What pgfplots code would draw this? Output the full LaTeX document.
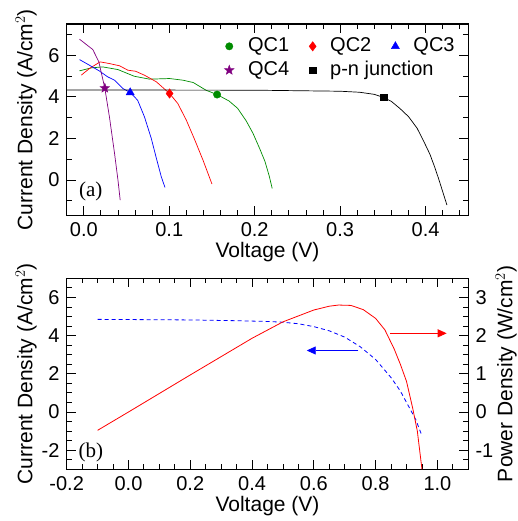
\documentclass[border=0pt]{standalone}
\usepackage{pgfplots}
\pgfplotsset{compat=1.18}
\usepackage{fontspec}
\setmainfont{Liberation Sans}
\newfontfamily\seriffont{Liberation Serif}
\usetikzlibrary{arrows.meta}
\definecolor{qgreen}{RGB}{0,140,0}
\definecolor{qpurple}{RGB}{128,0,128}
\pgfdeclareplotmark{fstar}{%
  \pgfpathmoveto{\pgfqpointpolar{90}{\pgfplotmarksize}}%
  \pgfpathlineto{\pgfqpointpolar{126}{0.42\pgfplotmarksize}}%
  \pgfpathlineto{\pgfqpointpolar{162}{\pgfplotmarksize}}%
  \pgfpathlineto{\pgfqpointpolar{198}{0.42\pgfplotmarksize}}%
  \pgfpathlineto{\pgfqpointpolar{234}{\pgfplotmarksize}}%
  \pgfpathlineto{\pgfqpointpolar{270}{0.42\pgfplotmarksize}}%
  \pgfpathlineto{\pgfqpointpolar{306}{\pgfplotmarksize}}%
  \pgfpathlineto{\pgfqpointpolar{342}{0.42\pgfplotmarksize}}%
  \pgfpathlineto{\pgfqpointpolar{18}{\pgfplotmarksize}}%
  \pgfpathlineto{\pgfqpointpolar{54}{0.42\pgfplotmarksize}}%
  \pgfpathclose
  \pgfusepathqfillstroke}
\begin{document}
\fontsize{21}{24}\selectfont
\begin{tikzpicture}
\useasboundingbox (0pt,0pt) rectangle (518pt,521pt);
\pgfplotsset{
  every axis/.append style={
   scale only axis, width=401.6pt, anchor=south west,
   axis line style={line width=1.3pt},
   major tick length=9pt, minor tick length=5pt,
   every tick/.style={black, line width=0.9pt},
   tick align=inside,
   /pgf/number format/assume math mode=true,
   tick label style={font=\fontsize{20}{23}\selectfont},
   label style={font=\fontsize{21}{24}\selectfont},
  }
}
% ---------------- panel (a)
\begin{axis}[at={(66.7pt,305.5pt)}, height=191.5pt,
  xmin=-0.02,xmax=0.45, ymin=-1.7,ymax=7.5,
  xtick={0,0.1,0.2,0.3,0.4},
  minor xtick={0.02,0.04,0.06,0.08,0.12,0.14,0.16,0.18,0.22,0.24,0.26,0.28,0.32,0.34,0.36,0.38,0.42,0.44},
  ytick={0,2,4,6}, minor ytick={-1,1,3,5,7},
  xticklabel style={/pgf/number format/.cd,fixed,fixed zerofill,precision=1},
  xlabel={Voltage (V)}, ylabel={Current Density (A/cm$^2$)},
  xlabel style={at={(axis description cs:0.5,-0.19)},anchor=center},
  ylabel style={at={(axis description cs:-0.101,0.5)},anchor=center},
  legend columns=3,
  legend style={draw=none, fill=none, at={(axis description cs:0.385,0.95)}, anchor=north west,
     font=\fontsize{20}{23}\selectfont, row sep=2.5pt,
     /tikz/every odd column/.append style={column sep=12pt},
     /tikz/every even column/.append style={column sep=18pt}},
  legend cell align=left,
]
\addplot[qgreen, line width=0.7pt, forget plot] coordinates {
(-0.005,5.25)(0.0086,5.39)(0.022,5.44)(0.040,5.31)(0.059,4.99)(0.077,4.85)(0.1004,4.88)(0.116,4.8)(0.128,4.69)(0.143,4.32)(0.156,4.11)(0.17,3.8)(0.180,3.45)(0.19,2.85)(0.198,2.25)(0.206,1.5)(0.212,0.9)(0.217,0.2)(0.2205,-0.4)};
\addplot[red, line width=0.7pt, forget plot] coordinates {
(-0.003,5.04)(0.0066,5.36)(0.019,5.68)(0.030,5.6)(0.042,5.49)(0.0516,5.28)(0.0606,5.23)(0.071,5.04)(0.085,4.72)(0.1004,4.16)(0.110,3.68)(0.120,2.88)(0.130,1.92)(0.1395,0.96)(0.150,-0.19)};
\addplot[blue, line width=0.7pt, forget plot] coordinates {
(-0.005,5.79)(0.0066,5.52)(0.018,5.25)(0.028,4.96)(0.036,4.8)(0.0457,4.4)(0.0543,4.21)(0.063,3.84)(0.071,3.04)(0.079,2.0)(0.085,1.04)(0.0907,0.16)(0.095,-0.35)};
\addplot[qpurple, line width=0.7pt, forget plot] coordinates {
(-0.005,6.77)(0.0106,6.27)(0.0176,5.68)(0.0246,4.42)(0.030,3.04)(0.036,1.28)(0.040,0)(0.0426,-0.96)};
\addplot[black, line width=0.7pt, forget plot] coordinates {
(-0.02,4.33)(0.2,4.32)(0.3,4.27)(0.323,4.22)(0.34,4.12)(0.351,3.97)(0.36,3.78)(0.370,3.44)(0.38,3.05)(0.390,2.5)(0.398,1.85)(0.405,1.25)(0.41,0.7)(0.415,0.1)(0.42,-0.55)(0.425,-1.2)};
\addplot[only marks, mark=*, mark size=3.7pt, qgreen] coordinates {(0.156,4.11)};
\addlegendentry{QC1}
\addplot[only marks, mark=diamond*, mark size=4.7pt, red] coordinates {(0.1004,4.16)};
\addlegendentry{QC2}
\addplot[only marks, mark=triangle*, mark size=4.7pt, blue] coordinates {(0.0543,4.21)};
\addlegendentry{QC3}
\addplot[only marks, mark=fstar, mark size=5pt, qpurple] coordinates {(0.0246,4.42)};
\addlegendentry{QC4}
\addplot[only marks, mark=square*, mark size=3.2pt, black] coordinates {(0.351,3.97)};
\addlegendentry{\makebox[0pt][l]{p-n junction}}
\node[font=\seriffont\fontsize{21}{24}\selectfont] at (axis description cs:0.06,0.124) {(a)};
\end{axis}
% ---------------- panel (b)
\begin{axis}[at={(66.7pt,51.7pt)}, height=191pt,
  xmin=-0.2,xmax=1.1, ymin=-3,ymax=7,
  xtick={-0.2,0,0.2,0.4,0.6,0.8,1.0},
  minor xtick={-0.15,-0.1,-0.05,0.05,0.1,0.15,0.25,0.3,0.35,0.45,0.5,0.55,0.65,0.7,0.75,0.85,0.9,0.95,1.05},
  ytick={-2,0,2,4,6},
  minor ytick={-2.5,-1.5,-1,-0.5,0.5,1,1.5,2.5,3,3.5,4.5,5,5.5,6.5},
  ytick pos=left,
  xticklabel style={/pgf/number format/.cd,fixed,fixed zerofill,precision=1},
  xlabel={Voltage (V)}, ylabel={Current Density (A/cm$^2$)},
  xlabel style={at={(axis description cs:0.5,-0.195)},anchor=center},
  ylabel style={at={(axis description cs:-0.101,0.5)},anchor=center},
]
\addplot[blue, line width=0.8pt, dash pattern=on 4pt off 3pt] coordinates {
(-0.1,4.85)(0.0,4.84)(0.2,4.82)(0.35,4.78)(0.45,4.74)(0.5,4.70)(0.55,4.62)(0.6,4.47)(0.65,4.25)(0.7,3.92)(0.75,3.42)(0.8,2.75)(0.85,1.8)(0.88,1.1)(0.91,0.2)(0.93,-0.4)(0.95,-1.25)};
\draw[blue, line width=0.9pt, -{Triangle[length=9pt,width=8pt]}] (axis cs:0.744,3.22) -- (axis cs:0.577,3.22);
\draw[red, line width=0.9pt, -{Triangle[length=9pt,width=8pt]}] (axis cs:0.847,4.12) -- (axis cs:1.03,4.12);
\node[font=\seriffont\fontsize{21}{24}\selectfont] at (axis description cs:0.06,0.087) {(b)};
\end{axis}
\begin{axis}[at={(66.7pt,51.7pt)}, height=191pt,
  xmin=-0.2,xmax=1.1, ymin=-1.5,ymax=3.5,
  axis x line=none, axis y line*=right,
  ytick={-1,0,1,2,3},
  minor ytick={-1.25,-0.75,-0.5,-0.25,0.25,0.5,0.75,1.25,1.5,1.75,2.25,2.5,2.75,3.25},
  ylabel={Power Density (W/cm$^2$)},
  ylabel style={at={(axis description cs:1.094,0.5)},anchor=center},
]
\addplot[red, line width=0.8pt] coordinates {
(-0.1,-0.48)(0.0,0.0)(0.2,0.97)(0.4,1.93)(0.5,2.36)(0.6,2.67)(0.65,2.77)(0.68,2.80)(0.72,2.79)(0.76,2.68)(0.80,2.45)(0.83,2.15)(0.86,1.65)(0.88,1.25)(0.90,0.8)(0.92,0.1)(0.935,-0.5)(0.95,-1.5)};
\end{axis}
\end{tikzpicture}
\end{document}
